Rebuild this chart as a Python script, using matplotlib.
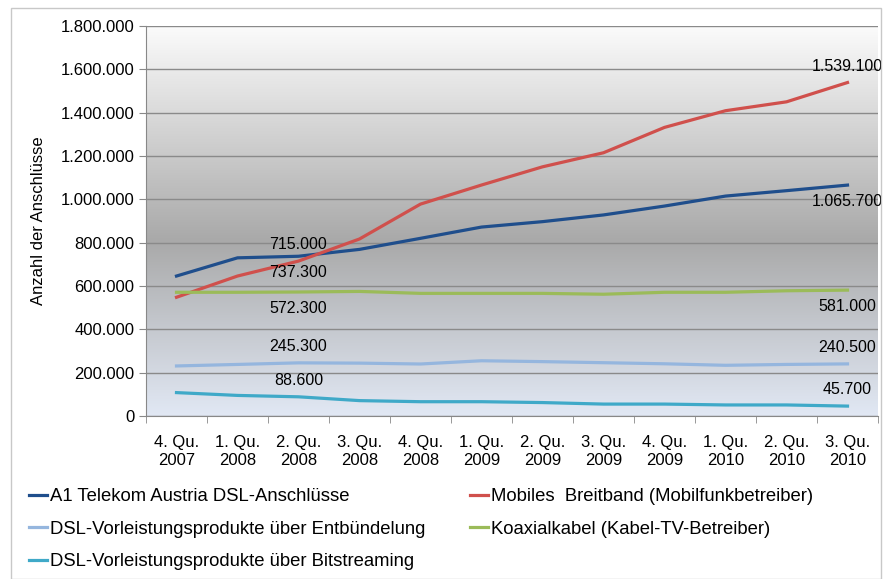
import numpy as np
import matplotlib.pyplot as plt
from matplotlib.colors import LinearSegmentedColormap
from matplotlib.patches import Rectangle

plt.rcParams['font.family'] = ['Liberation Sans', 'DejaVu Sans']

quarters = ["4. Qu.\n2007", "1. Qu.\n2008", "2. Qu.\n2008", "3. Qu.\n2008", "4. Qu.\n2008",
            "1. Qu.\n2009", "2. Qu.\n2009", "3. Qu.\n2009", "4. Qu.\n2009", "1. Qu.\n2010",
            "2. Qu.\n2010", "3. Qu.\n2010"]

a1_dsl = [646000, 730000, 737300, 769000, 820000, 872000, 897000, 928000, 969000, 1015000, 1040000, 1065700]
mobil = [548000, 646000, 715000, 817000, 978000, 1066000, 1150000, 1215000, 1332000, 1409000, 1450000, 1539100]
entb = [231000, 238000, 245300, 244000, 240000, 255000, 251000, 246000, 241000, 234000, 238000, 240500]
koax = [571000, 571000, 572300, 575000, 566000, 566000, 566000, 562000, 571000, 571000, 578000, 581000]
bitstr = [108000, 95000, 88600, 71000, 66000, 66000, 62000, 55000, 55000, 51000, 51000, 45700]

names = ["A1 Telekom Austria DSL-Anschlüsse", "Mobiles  Breitband (Mobilfunkbetreiber)",
         "DSL-Vorleistungsprodukte über Entbündelung", "Koaxialkabel (Kabel-TV-Betreiber)",
         "DSL-Vorleistungsprodukte über Bitstreaming"]
colors = ["#1f4e8c", "#d0504c", "#95b6de", "#9bbb59", "#3fa9c8"]
# label above (+1) or below (-1) the point, at 2. Qu. 2008 and 3. Qu. 2010
side_mid = [-1, 1, 1, -1, 1]
side_end = [-1, 1, 1, -1, 1]

def fmt(v):
    return "{:,.0f}".format(v).replace(",", ".")

fig = plt.figure(figsize=(8.85, 5.79), dpi=100)
ax = fig.add_axes([146/885, 1-416/579, 732/885, 390/579])

# gradient background
cmap = LinearSegmentedColormap.from_list("bg", [(0, "#e1e8f4"), (0.45, "#a9a9a9"), (1, "#fbfbfb")])
grad = np.linspace(0, 1, 256).reshape(-1, 1)
ax.imshow(grad, aspect="auto", cmap=cmap, origin="lower",
          extent=[-0.5, 11.5, 0, 1800000], zorder=0)

x = np.arange(len(quarters))
series = [a1_dsl, mobil, entb, koax, bitstr]
lines = []
for s, c, n in zip(series, colors, names):
    l, = ax.plot(x, s, color=c, lw=2.3, label=n, zorder=3)
    lines.append(l)

off = 75000
for s, sm, se in zip(series, side_mid, side_end):
    ax.text(2, s[2] + sm * off, fmt(s[2]), ha="center", va="center", fontsize=11.5, zorder=4)
    ax.text(11, s[11] + se * off, fmt(s[11]), ha="center", va="center", fontsize=11.5, zorder=4)

ax.set_xlim(-0.5, 11.5)
ax.set_ylim(0, 1800000)
ax.set_yticks(np.arange(0, 1800001, 200000))
ax.set_yticklabels([fmt(v) for v in np.arange(0, 1800001, 200000)], fontsize=12)
ax.set_xticks(x)
ax.set_xticklabels(quarters, fontsize=12)
ax.set_xticks(np.arange(-0.5, 12, 1), minor=True)
ax.tick_params(axis="x", which="major", length=0, pad=14)
ax.tick_params(axis="x", which="minor", length=5, color="#888888")
ax.tick_params(axis="y", length=5, color="#888888")
ax.grid(axis="y", color="#8a8a8a", lw=1, zorder=1)
ax.set_axisbelow(False)
for sp in ["top", "right"]:
    ax.spines[sp].set_visible(False)
for sp in ["left", "bottom"]:
    ax.spines[sp].set_color("#888888")
ax.set_ylabel("Anzahl der Anschlüsse", fontsize=12, labelpad=10)

order = [0, 2, 4, 1, 3]
fig.legend([lines[i] for i in order], [names[i] for i in order], ncol=2,
           loc="upper left", bbox_to_anchor=(29/885, 1-488/579), frameon=False,
           fontsize=13.3, handlelength=1.0, handletextpad=0.15, columnspacing=2.4,
           labelspacing=0.85, borderaxespad=0, borderpad=0)

fig.patches.append(Rectangle((11/885, 0), 870/885, 1-8/579, transform=fig.transFigure,
                             fill=False, edgecolor="#c8c8c8", lw=1))

fig.savefig("out.png", dpi=100)
